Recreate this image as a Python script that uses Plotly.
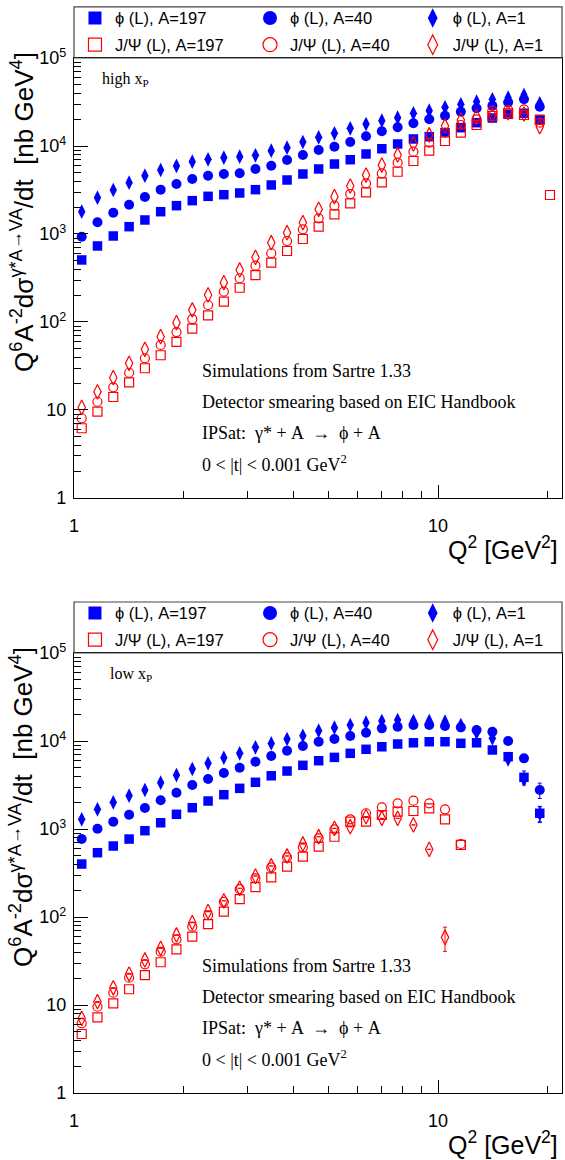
import plotly.graph_objects as go

# Q^2 bin centres [GeV^2]
Q2 = [1.050, 1.160, 1.282, 1.417, 1.566, 1.730, 1.912, 2.113, 2.335, 2.580,
      2.852, 3.151, 3.482, 3.848, 4.253, 4.700, 5.193, 5.739, 6.342, 7.008,
      7.745, 8.558, 9.458, 10.45, 11.55, 12.76, 14.10, 15.58, 17.22, 19.03]
Q2_EXTRA = [20.3]

# ---------------- high x_P (top panel) ----------------
phi197_high = [507, 731, 949, 1211, 1443, 1792, 2098, 2392, 2680, 2797,
               2924, 3190, 3605, 4108, 4805, 5480, 6240, 6985, 8110, 9310,
               10540, 12020, 12760, 14170, 16150, 18400, 20800, 22920, 23530, 20100]
phi40_high = [931, 1358, 1746, 2153, 2632, 3190, 3700, 4217, 4600, 4805,
              4897, 5480, 5975, 6935, 7905, 9010, 9820, 11100, 12890, 14690,
              16320, 18120, 20100, 22090, 24550, 26810, 28720, 31380, 33950, 27980]
phi1_high = [1792, 2585, 3162, 3830, 4600, 5335, 5930, 6635, 7060, 7365,
             7555, 7840, 8850, 9570, 11100, 12560, 13940, 15890, 17780, 19400,
             20990, 23530, 25180, 27540, 29780, 31900, 33950, 35400, 38000, 30550]
jpsi197_high = [6.2, 9.57, 14.05, 20.6, 29.8, 41.9, 59.3, 84, 119, 170,
                245, 340, 472, 641, 877, 1211, 1675, 2233, 2978, 3870,
                5100, 6755, 8850, 11400, 14170, 17330, 21930, 23530, 22500, 19740]
jpsi197_high_extra = [2775]
jpsi40_high = [8.05, 12.4, 18.1, 26.5, 38.7, 54.8, 76.9, 108, 156, 221,
               314, 436, 604, 832, 1130, 1508, 2098, 2849, 3770, 4897,
               6460, 8610, 10910, 14170, 17330, 20100, 25180, 25660, 26130, 18400]
jpsi1_high = [10.7, 16.1, 23.3, 33.9, 48.9, 68.1, 98.2, 137, 203, 280,
              390, 543, 796, 1035, 1344, 1909, 2654, 3511, 4680, 6080,
              7905, 10540, 13340, 16880, 19740, 21530, 22500, 23920, 23100, 16580]

# ---------------- low x_P (bottom panel) ----------------
phi197_low = [400, 538, 641, 769, 957, 1178, 1469, 1746, 2080, 2455,
              2897, 3396, 4027, 4560, 5297, 5970, 6516, 7244, 8054, 8610,
              9247, 9550, 9817, 9817, 9419, 9550, 7907, 6637, 3864, 1510]
phi197_low_err = [0, 0, 0, 0, 0, 0, 0, 0, 0, 0,
                  0, 0, 0, 0, 0, 0, 0, 0, 0, 0,
                  0, 0, 0, 0, 0, 0, 200, 300, 700, 300]
phi40_low = [769, 1009, 1211, 1455, 1730, 2118, 2584, 3162, 3707, 4325,
             4977, 5808, 6745, 7762, 8770, 9817, 10540, 11400, 12440, 13930,
             14550, 15210, 15210, 14790, 14290, 13340, 12740, 10000, 6353, 2775]
phi40_low_err = [0, 0, 0, 0, 0, 0, 0, 0, 0, 0,
                 0, 0, 0, 0, 0, 0, 0, 0, 0, 0,
                 0, 0, 0, 0, 0, 0, 0, 200, 300, 550]
phi1_low = [1288, 1675, 2010, 2393, 2775, 3365, 4103, 4808, 5585, 6457,
            7244, 8475, 9397, 10540, 11480, 13100, 14160, 15210, 16150, 16870,
            17330, 16870, 16870, 16600, 15210, 12440, 10740, 6194, 3670, 1482]
phi1_low_err = [0, 0, 0, 0, 0, 0, 0, 0, 0, 0,
                0, 0, 0, 0, 0, 0, 0, 0, 0, 0,
                0, 0, 0, 0, 0, 0, 0, 300, 400, 300]
jpsi197_low = [4.68, 7.24, 10.45, 15.1, 21.9, 30.6, 42.9, 59.7, 83.2, 115,
               160, 218, 282, 373, 485, 630, 817, 1211, 1211, 1442,
               1574, 1603, 1718, 1288, 660, None, None, None, None, None]
jpsi40_low = [6.2, 9.55, 13.8, 20.4, 29.0, 40.4, 55.8, 77.6, 105, 149,
              207, 275, 366, 477, 619, 784, 993, 1288, 1510, 1762,
              1960, 2099, 1960, 1675, 676, None, None, None, None, None]
jpsi1_low = [7.05, 10.9, 15.7, 22.5, 32.5, 44.0, 62.5, 86.3, 115, 153,
             212, 292, 380, 494, 676, 817, 1018, 1062, 1380, 1321,
             1321, 1112, 588, 58.7, None, None, None, None, None, None]
jpsi1_low_err = [0, 0, 0, 0, 0, 0, 0, 0, 0, 0,
                 0, 0, 0, 0, 0, 0, 0, 0, 0, 0,
                 0, 0, 0, 18, 0, 0, 0, 0, 0, 0]

LEGEND_NAMES = ["ϕ (L), A=197", "ϕ (L), A=40", "ϕ (L), A=1",
                "J/Ψ (L), A=197", "J/Ψ (L), A=40", "J/Ψ (L), A=1"]
Y_TICKS = [1, 10, 100, 1000, 10000, 100000]
Y_TICKTEXT = ["1", "10", "10<sup>2</sup>", "10<sup>3</sup>", "10<sup>4</sup>", "10<sup>5</sup>"]
X_TICKS = [1, 10]
X_TICKTEXT = ["1", "10"]
X_MINOR = [2, 3, 4, 5, 6, 7, 8, 9, 20]
Y_MINOR = [m * 10 ** d for d in range(5) for m in range(2, 10)]

BLUE = "#0000ff"
RED = "#ff0000"
SANS = "Liberation Sans, Arial, sans-serif"
SERIF = "Liberation Serif, Times New Roman, serif"

fig = go.Figure()

# (color, symbol, plot size, legend size, line width)
styles = [
    (BLUE, "square", 9.5, 13, 0),
    (BLUE, "circle", 10, 14, 0),
    (BLUE, "diamond-tall", 10.5, 14, 0),
    (RED, "square-open", 9, 13, 1.2),
    (RED, "circle-open", 9, 14, 1.2),
    (RED, "diamond-tall-open", 10.5, 14, 1.2),
]

leg_x = [0.002, 0.3607, 0.6941]
row_y_top = [1.0384, 1.0126]
row_y_bot = [0.4635, 0.4377]

def add_series(xs, ys, k, xa, ya, legname, err=None):
    color, sym, size, lsize, lw = styles[k]
    ed = None
    if err is not None:
        ed = dict(type="data", array=err, visible=True, color=color, thickness=1, width=2)
    fig.add_trace(go.Scatter(
        x=xs, y=ys, mode="markers", name=LEGEND_NAMES[k],
        marker=dict(symbol=sym, size=size, color=color, line=dict(color=color, width=lw)),
        error_y=ed, xaxis=xa, yaxis=ya, showlegend=False, hoverinfo="x+y",
    ))
    # legend entry (same series, drawn only in its legend box)
    fig.add_trace(go.Scatter(
        x=[None], y=[None], mode="markers", name=LEGEND_NAMES[k],
        marker=dict(symbol=sym, size=lsize, color=color, line=dict(color=color, width=lw)),
        xaxis=xa, yaxis=ya, legend=legname, showlegend=True,
    ))

top_sets = [phi197_high, phi40_high, phi1_high, jpsi197_high, jpsi40_high, jpsi1_high]
bot_sets = [phi197_low, phi40_low, phi1_low, jpsi197_low, jpsi40_low, jpsi1_low]
bot_errs = [phi197_low_err, phi40_low_err, phi1_low_err, None, None, jpsi1_low_err]

for k in range(6):
    xs = Q2 + (Q2_EXTRA if k == 3 else [])
    ys = top_sets[k] + (jpsi197_high_extra if k == 3 else [])
    add_series(xs, ys, k, "x", "y", "legend" if k == 0 else f"legend{k + 1}")
for k in range(6):
    add_series(Q2, bot_sets[k], k, "x2", "y2", f"legend{k + 7}", bot_errs[k])

legends = {}
for k in range(6):
    col = k % 3
    row = k // 3
    for panel, rows in ((0, row_y_top), (1, row_y_bot)):
        idx = k + 1 + 6 * panel
        key = "legend" if idx == 1 else f"legend{idx}"
        legends[key] = dict(
            x=leg_x[col], y=rows[row], xanchor="left", yanchor="middle",
            bgcolor="rgba(0,0,0,0)", borderwidth=0, itemsizing="trace",
            font=dict(family=SANS, size=16.5, color="black"),
        )

axis_common = dict(
    type="log", showgrid=False, zeroline=False, showline=True, mirror=True,
    linecolor="black", linewidth=1.2, ticks="inside", tickcolor="black",
    tickfont=dict(family=SANS, size=18, color="black"),
)
xr = [0, 1.3405]
fig.update_layout(
    width=565, height=1160,
    margin=dict(l=74, r=3, t=58, b=67, autoexpand=False),
    paper_bgcolor="white", plot_bgcolor="white",
    xaxis=dict(axis_common, domain=[0, 1], anchor="y", range=xr,
               tickvals=X_TICKS, ticktext=X_TICKTEXT, ticklen=13, tickwidth=1,
               ticklabelstandoff=11,
               minor=dict(tickvals=X_MINOR, ticks="inside", ticklen=7, tickcolor="black")),
    yaxis=dict(axis_common, domain=[0.5749, 1], anchor="x", range=[0, 5],
               tickvals=Y_TICKS, ticktext=Y_TICKTEXT, ticklen=14, tickwidth=1,
               ticklabelstandoff=3,
               minor=dict(tickvals=Y_MINOR, ticks="inside", ticklen=7, tickcolor="black")),
    xaxis2=dict(axis_common, domain=[0, 1], anchor="y2", range=xr,
                tickvals=X_TICKS, ticktext=X_TICKTEXT, ticklen=13, tickwidth=1,
                ticklabelstandoff=11,
                minor=dict(tickvals=X_MINOR, ticks="inside", ticklen=7, tickcolor="black")),
    yaxis2=dict(axis_common, domain=[0, 0.4251], anchor="x2", range=[0, 5],
                tickvals=Y_TICKS, ticktext=Y_TICKTEXT, ticklen=14, tickwidth=1,
                ticklabelstandoff=3,
                minor=dict(tickvals=Y_MINOR, ticks="inside", ticklen=7, tickcolor="black")),
    **legends,
)

# legend frames
for y0, y1 in ((1.0, 1.0493), (0.4251, 0.4744)):
    fig.add_shape(type="rect", xref="paper", yref="paper", x0=0, x1=1, y0=y0, y1=y1,
                  line=dict(color="#444", width=1.2), fillcolor="rgba(0,0,0,0)")

ytitle = "Q<sup>6</sup>A<sup>-2</sup>dσ<sup>γ*A→VA</sup>/dt  [nb GeV<sup>4</sup>]"
xtitle = "Q<sup>2</sup> [GeV<sup>2</sup>]"
info = ["Simulations from Sartre 1.33",
        "Detector smearing based on EIC Handbook",
        "IPSat:  γ* + A  →  ϕ + A",
        "0 < |t| < 0.001 GeV<sup>2</sup>"]
info_y = [0.2886, 0.2182, 0.1477, 0.0773]

for xa, ya, lab, lx, ytop, xty in (("x", "y", "high x<sub>P</sub>", 0.0533, 1.0077, 0.5266),
                                    ("x2", "y2", "low x<sub>P</sub>", 0.069, 0.4329, -0.0483)):
    fig.add_annotation(text=lab, xref=f"{xa} domain", yref=f"{ya} domain", x=lx, y=0.952,
                       xanchor="left", yanchor="middle", showarrow=False,
                       font=dict(family=SERIF, size=16, color="black"))
    for t, yy in zip(info, info_y):
        fig.add_annotation(text=t, xref=f"{xa} domain", yref=f"{ya} domain", x=0.258, y=yy,
                           xanchor="left", yanchor="middle", showarrow=False,
                           font=dict(family=SERIF, size=18, color="black"))
    fig.add_annotation(text=ytitle, xref="paper", yref="paper", x=-0.1066, y=ytop,
                       xanchor="center", yanchor="top", textangle=-90, showarrow=False,
                       font=dict(family=SANS, size=26, color="black"))
    fig.add_annotation(text=xtitle, xref="paper", yref="paper", x=0.9959, y=xty,
                       xanchor="right", yanchor="middle", showarrow=False,
                       font=dict(family=SANS, size=25, color="black"))

fig.write_html("out.html", config={"displayModeBar": False},
               post_script="document.body.style.margin='0px';document.body.style.overflow='hidden';")
